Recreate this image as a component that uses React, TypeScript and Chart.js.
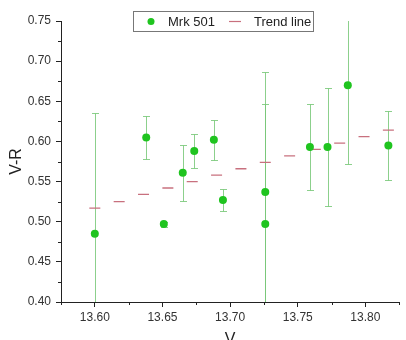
import React, { useEffect, useRef } from 'react';
import { Chart, registerables } from 'chart.js';

Chart.register(...registerables);

// ---- data ----
const vMag = [13.600, 13.638, 13.651, 13.665, 13.6735, 13.688, 13.6947, 13.726, 13.726, 13.759, 13.772, 13.787, 13.817];
const vrColor = [0.485, 0.605, 0.497, 0.561, 0.588, 0.602, 0.527, 0.537, 0.497, 0.593, 0.593, 0.670, 0.595];
const vrError = [0.150, 0.027, 0.003, 0.035, 0.021, 0.025, 0.014, 0.150, 0.150, 0.054, 0.074, 0.098, 0.043];

const trendV = [13.600, 13.618, 13.636, 13.654, 13.672, 13.690, 13.708, 13.726, 13.744, 13.763, 13.781, 13.799, 13.817];
const trendVR = [0.517, 0.525, 0.534, 0.542, 0.550, 0.558, 0.566, 0.574, 0.582, 0.590, 0.598, 0.606, 0.614];

const xMajorTicks = [13.60, 13.65, 13.70, 13.75, 13.80];
const xMinorTicks = [13.575, 13.625, 13.675, 13.725, 13.775, 13.825];
const yMajorTicks = [0.40, 0.45, 0.50, 0.55, 0.60, 0.65, 0.70, 0.75];
const yMinorTicks = [0.425, 0.475, 0.525, 0.575, 0.625, 0.675, 0.725];

const seriesLabel = 'Mrk 501';
const trendLabel = 'Trend line';
const xTitle = 'V';
const yTitle = 'V-R';

const FONT = '"Liberation Sans", Arial, sans-serif';
const POINT_COLOR = '#1fc41f';
const ERR_COLOR = 'rgba(120,200,120,0.85)';
const TREND_COLOR = '#c8707e';
const AXIS_COLOR = '#222';
const TEXT_COLOR = '#333';

const errorBarPlugin = {
  id: 'errorBars',
  beforeDatasetsDraw(chart: any) {
    const { ctx, chartArea, scales } = chart;
    const x = scales.x;
    const y = scales.y;
    ctx.save();
    ctx.beginPath();
    ctx.rect(chartArea.left, chartArea.top, chartArea.right - chartArea.left, chartArea.bottom - chartArea.top);
    ctx.clip();
    ctx.strokeStyle = ERR_COLOR;
    ctx.lineWidth = 1;
    vMag.forEach((v, i) => {
      const px = Math.round(x.getPixelForValue(v)) + 0.5;
      const top = Math.round(y.getPixelForValue(vrColor[i] + vrError[i])) + 0.5;
      const bot = Math.round(y.getPixelForValue(vrColor[i] - vrError[i])) + 0.5;
      ctx.beginPath();
      ctx.moveTo(px, top);
      ctx.lineTo(px, bot);
      ctx.moveTo(px - 3.5, top);
      ctx.lineTo(px + 3.5, top);
      ctx.moveTo(px - 3.5, bot);
      ctx.lineTo(px + 3.5, bot);
      ctx.stroke();
    });
    ctx.restore();
  },
};

const minorTickPlugin = {
  id: 'minorTicks',
  afterDraw(chart: any) {
    const { ctx, chartArea, scales } = chart;
    ctx.save();
    ctx.strokeStyle = AXIS_COLOR;
    ctx.lineWidth = 1;
    ctx.beginPath();
    xMinorTicks.forEach((v) => {
      const px = Math.round(scales.x.getPixelForValue(v)) + 0.5;
      ctx.moveTo(px, chartArea.bottom);
      ctx.lineTo(px, chartArea.bottom + 3);
    });
    yMinorTicks.forEach((v) => {
      const py = Math.round(scales.y.getPixelForValue(v)) + 0.5;
      ctx.moveTo(chartArea.left - 3, py);
      ctx.lineTo(chartArea.left, py);
    });
    ctx.stroke();
    ctx.restore();
  },
};

const boxLegendPlugin = {
  id: 'boxLegend',
  afterDraw(chart: any) {
    const { ctx } = chart;
    const ds = chart.data.datasets;
    const bx = 133.5, by = 11.5, bw = 180, bh = 20;
    const cy = by + bh / 2;
    ctx.save();
    ctx.fillStyle = '#fff';
    ctx.fillRect(bx, by, bw, bh);
    ctx.strokeStyle = '#777';
    ctx.lineWidth = 1;
    ctx.strokeRect(bx, by, bw, bh);
    ctx.fillStyle = POINT_COLOR;
    ctx.beginPath();
    ctx.arc(151, cy, 3.5, 0, Math.PI * 2);
    ctx.fill();
    ctx.strokeStyle = TREND_COLOR;
    ctx.lineWidth = 1.2;
    ctx.beginPath();
    ctx.moveTo(229, cy);
    ctx.lineTo(241, cy);
    ctx.stroke();
    ctx.fillStyle = '#222';
    ctx.font = `13px ${FONT}`;
    ctx.textBaseline = 'middle';
    ctx.fillText(ds[0].label, 168, cy + 0.5);
    ctx.fillText(ds[1].label, 254, cy + 0.5);
    ctx.restore();
  },
};

export default function App() {
  const canvasRef = useRef<HTMLCanvasElement | null>(null);

  useEffect(() => {
    document.body.style.margin = '0';
    const canvas = canvasRef.current;
    if (!canvas) return;
    const chart = new Chart(canvas, {
      type: 'scatter',
      data: {
        datasets: [
          {
            label: seriesLabel,
            data: vMag.map((v, i) => ({ x: v, y: vrColor[i] })),
            pointRadius: 4,
            pointBackgroundColor: POINT_COLOR,
            pointBorderWidth: 0,
            pointBorderColor: POINT_COLOR,
            showLine: false,
          },
          {
            label: trendLabel,
            data: trendV.map((v, i) => ({ x: v, y: trendVR[i] })),
            pointStyle: 'line',
            pointRadius: 5.5,
            pointBorderColor: TREND_COLOR,
            pointBorderWidth: 1.3,
            showLine: false,
          },
        ],
      },
      options: {
        animation: false,
        responsive: false,
        events: [],
        layout: { padding: { left: 1, top: 21, right: 4, bottom: 0 } },
        plugins: {
          legend: { display: false },
          tooltip: { enabled: false },
        },
        scales: {
          x: {
            type: 'linear',
            min: 13.575,
            max: 13.825,
            afterBuildTicks: (s: any) => {
              s.ticks = xMajorTicks.map((value) => ({ value }));
            },
            afterFit: (s: any) => {
              s.height = 38;
            },
            ticks: {
              callback: (v: any) => Number(v).toFixed(2),
              font: { family: FONT, size: 12 },
              color: TEXT_COLOR,
              padding: 3,
              maxRotation: 0,
              autoSkip: false,
            },
            grid: { drawOnChartArea: false, drawTicks: true, tickLength: 5, tickColor: AXIS_COLOR, tickWidth: 1 },
            border: { display: true, color: AXIS_COLOR, width: 1 },
            title: {
              display: true,
              text: xTitle,
              font: { family: FONT, size: 16 },
              color: '#222',
              padding: { top: 0, bottom: -9 },
            },
          },
          y: {
            type: 'linear',
            min: 0.4,
            max: 0.75,
            afterBuildTicks: (s: any) => {
              s.ticks = yMajorTicks.map((value) => ({ value }));
            },
            afterFit: (s: any) => {
              s.width = 60;
            },
            ticks: {
              callback: (v: any) => Number(v).toFixed(2),
              font: { family: FONT, size: 12 },
              color: TEXT_COLOR,
              padding: 5,
              autoSkip: false,
            },
            grid: { drawOnChartArea: false, drawTicks: true, tickLength: 5, tickColor: AXIS_COLOR, tickWidth: 1 },
            border: { display: true, color: AXIS_COLOR, width: 1 },
            title: {
              display: true,
              text: yTitle,
              font: { family: FONT, size: 16 },
              color: '#222',
              padding: { top: 6, bottom: 0 },
            },
          },
        },
      },
      plugins: [errorBarPlugin, minorTickPlugin, boxLegendPlugin],
    } as any);
    return () => chart.destroy();
  }, []);

  return (
    <div style={{ position: 'fixed', left: 0, top: 0, width: 406, height: 340 }}>
      <canvas ref={canvasRef} width={406} height={340} style={{ width: 406, height: 340, display: 'block' }} />
    </div>
  );
}
